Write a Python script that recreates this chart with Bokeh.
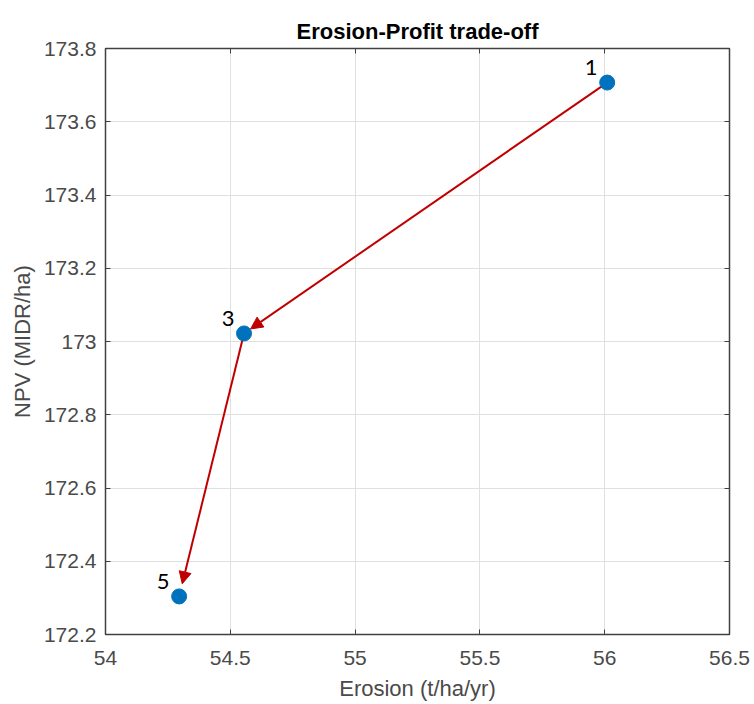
from bokeh.plotting import figure
from bokeh.models import (ColumnDataSource, Arrow, NormalHead, LinearAxis,
                          FixedTicker, Range1d)
from bokeh.core.properties import value
from bokeh.embed import file_html
from bokeh.resources import INLINE
import math

# ---- data ----
erosion = [56.01, 54.555, 54.295]
npv = [173.707, 173.022, 172.304]
point_labels = ["1", "3", "5"]

x_ticks = [54.0, 54.5, 55.0, 55.5, 56.0, 56.5]
x_tick_labels = ["54", "54.5", "55", "55.5", "56", "56.5"]
y_ticks = [172.2, 172.4, 172.6, 172.8, 173.0, 173.2, 173.4, 173.6, 173.8]
y_tick_labels = ["172.2", "172.4", "172.6", "172.8", "173", "173.2", "173.4", "173.6", "173.8"]

title_text = "Erosion-Profit trade-off"
x_label = "Erosion (t/ha/yr)"
y_label = "NPV (MIDR/ha)"

# ---- styling ----
FW, FH = 624, 586
XMIN, XMAX = x_ticks[0], x_ticks[-1]
YMIN, YMAX = y_ticks[0], y_ticks[-1]
BLUE = "#0072BD"
RED = "#C00000"
AX_COLOR = "#404040"
FONT = "Liberation Sans"

p = figure(frame_width=FW, frame_height=FH,
           x_range=Range1d(XMIN, XMAX), y_range=Range1d(YMIN, YMAX),
           output_backend="svg", toolbar_location=None,
           min_border_left=105, min_border_right=25,
           min_border_top=48, min_border_bottom=70,
           background_fill_color="white", border_fill_color="white")

p.title.text = title_text
p.title.align = "center"
p.title.text_font = FONT
p.title.text_font_size = "22px"
p.title.text_font_style = "bold"
p.title.text_color = "black"

p.outline_line_color = AX_COLOR
p.outline_line_width = 1.5
p.outline_line_alpha = 1.0

xt = FixedTicker(ticks=x_ticks)
yt = FixedTicker(ticks=y_ticks)

def style_axis(ax, ticker, labels, show_labels=True):
    ax.ticker = ticker
    if show_labels:
        ax.major_label_overrides = {t: l for t, l in zip(ticker.ticks, labels)}
    else:
        ax.major_label_overrides = {t: "" for t in ticker.ticks}
    ax.major_tick_in = 5
    ax.major_tick_out = 0
    ax.minor_tick_in = 0
    ax.minor_tick_out = 0
    ax.major_tick_line_color = AX_COLOR
    ax.axis_line_color = AX_COLOR
    ax.major_label_text_font = FONT
    ax.major_label_text_font_size = "21px"
    ax.major_label_text_color = "#4a4a4a"
    ax.axis_label_text_font = FONT
    ax.axis_label_text_font_size = "22px"
    ax.axis_label_text_font_style = "normal"
    ax.axis_label_text_color = "#4a4a4a"

xa = p.xaxis[0]
ya = p.yaxis[0]
style_axis(xa, xt, x_tick_labels)
style_axis(ya, yt, y_tick_labels)
xa.axis_label = x_label
ya.axis_label = y_label
xa.major_label_standoff = 16
xa.axis_label_standoff = 8
ya.major_label_standoff = 9
ya.axis_label_standoff = 6

top_ax = LinearAxis()
style_axis(top_ax, FixedTicker(ticks=x_ticks), x_tick_labels, show_labels=False)
top_ax.major_label_standoff = 0
p.add_layout(top_ax, "above")
right_ax = LinearAxis()
style_axis(right_ax, FixedTicker(ticks=y_ticks), y_tick_labels, show_labels=False)
right_ax.major_label_standoff = 0
p.add_layout(right_ax, "right")

p.grid.grid_line_color = "#e0e0e0"
p.grid.grid_line_width = 1
p.xgrid.ticker = xt
p.ygrid.ticker = yt

# ---- arrows between successive points (shortened in pixel space) ----
sx = FW / (XMAX - XMIN)
sy = FH / (YMAX - YMIN)

def shortened(x0, y0, x1, y1, cut_start, cut_end):
    dx = (x1 - x0) * sx
    dy = (y1 - y0) * sy
    L = math.hypot(dx, dy)
    ux, uy = dx / L, dy / L
    xs = x0 + ux * cut_start / sx
    ys = y0 + uy * cut_start / sy
    xe = x1 - ux * cut_end / sx
    ye = y1 - uy * cut_end / sy
    return xs, ys, xe, ye

cuts = [(0, 8), (6, 13)]
for i in range(len(erosion) - 1):
    xs, ys, xe, ye = shortened(erosion[i], npv[i], erosion[i + 1], npv[i + 1], *cuts[i])
    arr = Arrow(end=NormalHead(size=12, fill_color=RED, line_color=RED, line_width=1),
                x_start=xs, y_start=ys, x_end=xe, y_end=ye,
                line_color=RED, line_width=2, level="underlay")
    p.add_layout(arr)

src = ColumnDataSource(dict(x=erosion, y=npv, lab=point_labels))
p.scatter("x", "y", source=src, size=15, fill_color=BLUE, line_color=BLUE)
p.text("x", "y", text="lab", source=src, x_offset=-16, y_offset=-15,
       text_font=value("Lato"), text_font_size="22px", text_color="black",
       text_align="center", text_baseline="middle")

open("out.html", "w").write(file_html(p, INLINE))
